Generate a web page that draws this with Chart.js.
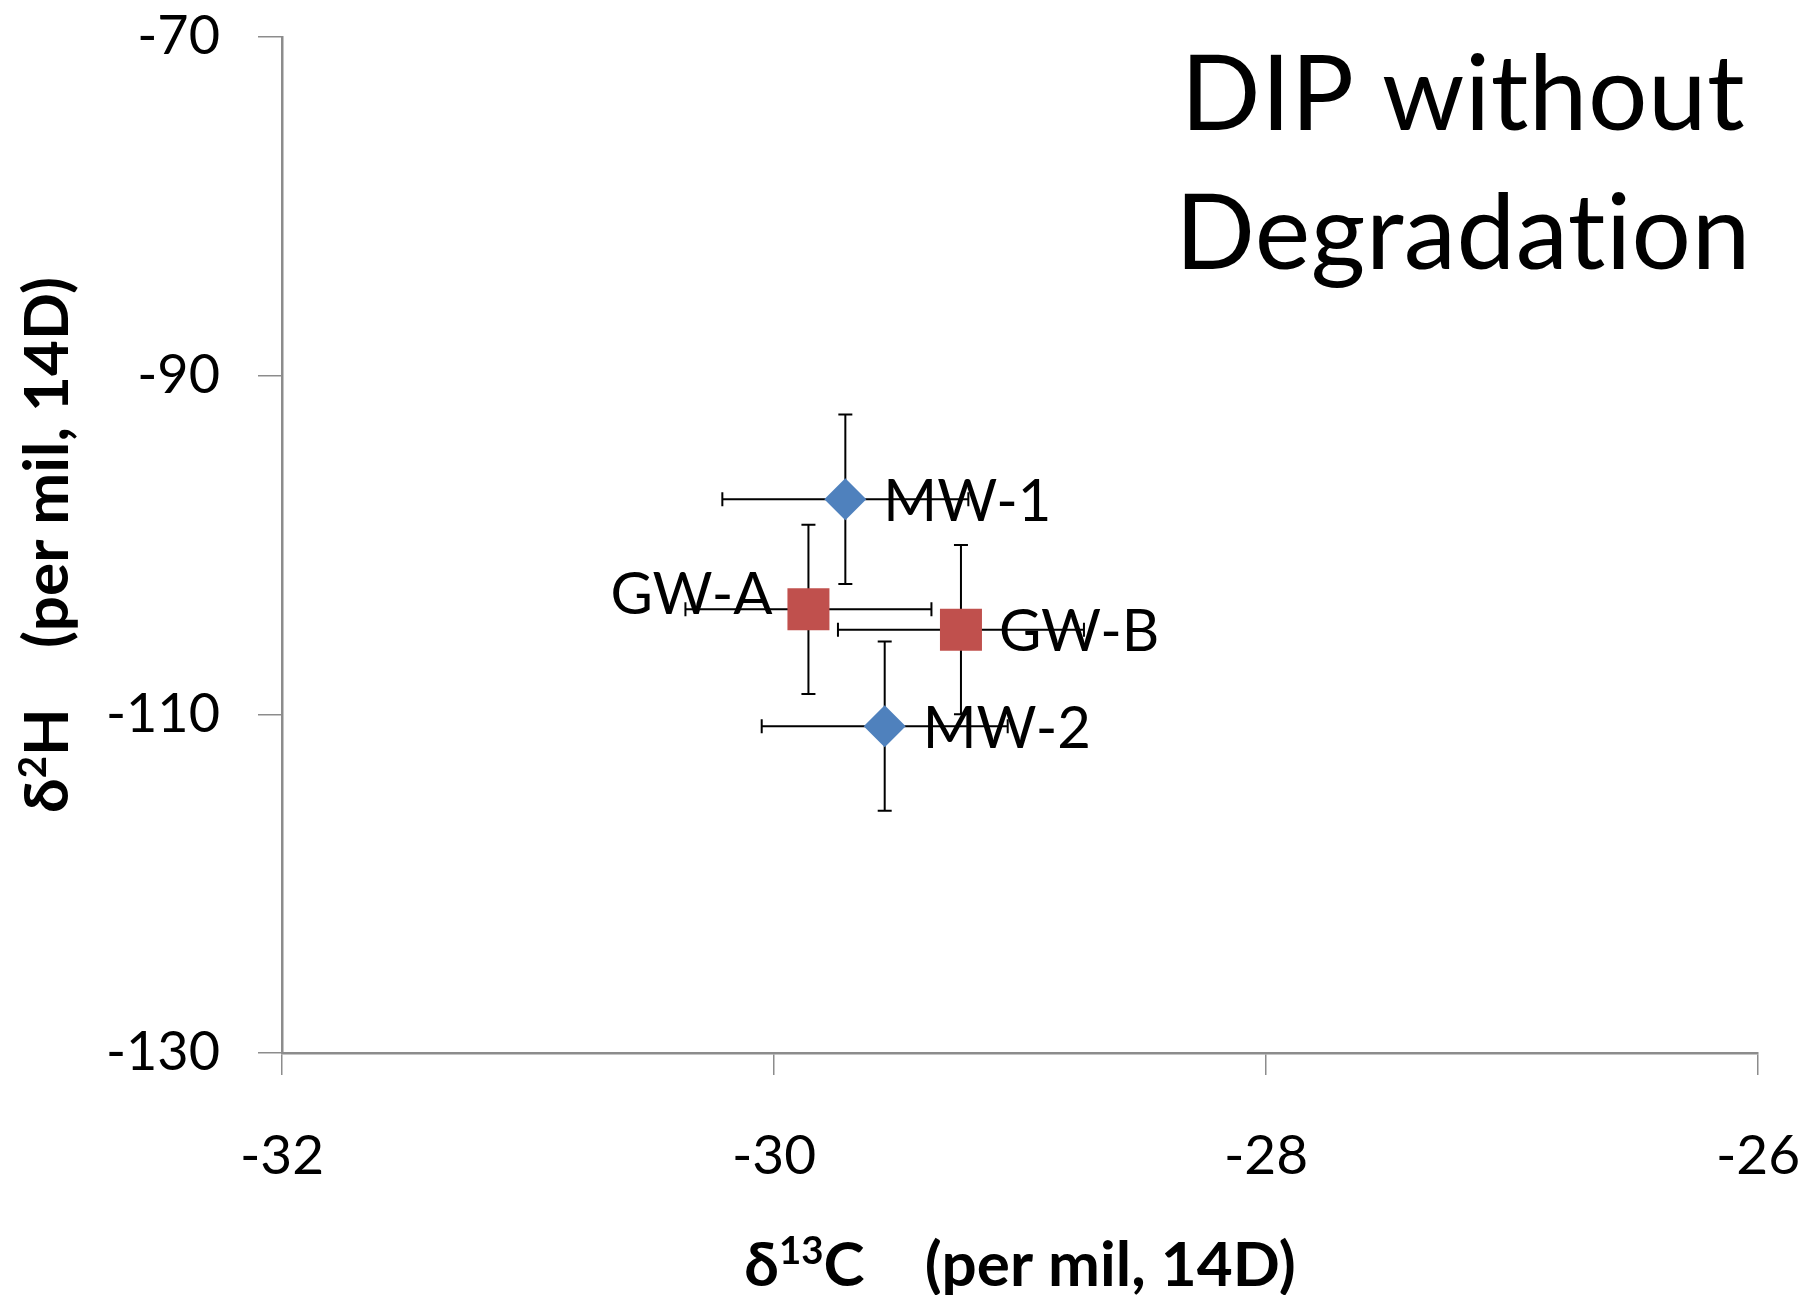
<!DOCTYPE html>
<html>
<head>
<meta charset="utf-8">
<script src="https://cdn.jsdelivr.net/npm/chart.js@4/dist/chart.umd.min.js"></script>
<style>
  html, body { margin: 0; padding: 0; background: #ffffff; }
  #wrap { width: 1818px; height: 1295px; }
</style>
</head>
<body>
<div id="wrap"><canvas id="c" width="1818" height="1295"></canvas></div>
<script>
// ---- data ----
const mwLabels = ['MW-1', 'MW-2'];
const mwX = [-29.71, -29.55];
const mwY = [-97.3, -110.7];
const mwXErr = [0.5, 0.5];
const mwYErr = [5, 5];

const gwLabels = ['GW-A', 'GW-B'];
const gwX = [-29.86, -29.24];
const gwY = [-103.8, -105.0];
const gwXErr = [0.5, 0.5];
const gwYErr = [5, 5];

const xTicks = [-32, -30, -28, -26];
const yTicks = [-130, -110, -90, -70];

const titleLines = ['DIP without', 'Degradation'];

// label side per point (style)
const labelSide = { 'MW-1': 'right', 'MW-2': 'right', 'GW-A': 'left', 'GW-B': 'right' };

const FONT = 'Lato, "Open Sans", sans-serif';

function mk(xs, ys, xe, ye, labels) {
  return xs.map((x, i) => ({ x: x, y: ys[i], xe: xe[i], ye: ye[i], label: labels[i] }));
}

const errorBars = {
  id: 'errorBars',
  beforeDatasetsDraw(chart) {
    const ctx = chart.ctx;
    const xs = chart.scales.x, ys = chart.scales.y;
    const cap = 7;
    ctx.save();
    ctx.strokeStyle = '#000000';
    ctx.lineWidth = 2;
    chart.data.datasets.forEach(ds => {
      ds.data.forEach(p => {
        const cx = xs.getPixelForValue(p.x), cy = ys.getPixelForValue(p.y);
        const x1 = xs.getPixelForValue(p.x - p.xe), x2 = xs.getPixelForValue(p.x + p.xe);
        const y1 = ys.getPixelForValue(p.y + p.ye), y2 = ys.getPixelForValue(p.y - p.ye);
        ctx.beginPath();
        ctx.moveTo(x1, cy); ctx.lineTo(x2, cy);
        ctx.moveTo(x1, cy - cap); ctx.lineTo(x1, cy + cap);
        ctx.moveTo(x2, cy - cap); ctx.lineTo(x2, cy + cap);
        ctx.moveTo(cx, y1); ctx.lineTo(cx, y2);
        ctx.moveTo(cx - cap, y1); ctx.lineTo(cx + cap, y1);
        ctx.moveTo(cx - cap, y2); ctx.lineTo(cx + cap, y2);
        ctx.stroke();
      });
    });
    ctx.restore();
  }
};

const pointLabels = {
  id: 'pointLabels',
  afterDatasetsDraw(chart) {
    const ctx = chart.ctx;
    const xs = chart.scales.x, ys = chart.scales.y;
    ctx.save();
    ctx.fillStyle = '#000000';
    ctx.font = '58px ' + FONT;
    ctx.textBaseline = 'middle';
    chart.data.datasets.forEach(ds => {
      ds.data.forEach(p => {
        const cx = xs.getPixelForValue(p.x), cy = ys.getPixelForValue(p.y);
        if (labelSide[p.label] === 'left') {
          ctx.textAlign = 'right';
          ctx.fillText(p.label, cx - 36, cy - 14);
        } else {
          ctx.textAlign = 'left';
          ctx.fillText(p.label, cx + 38, cy + 3);
        }
      });
    });
    ctx.restore();
  }
};

function drawSupText(ctx, parts, x, y, size) {
  const supSize = size * 0.62;
  let total = 0;
  parts.forEach(p => {
    ctx.font = 'bold ' + (p.sup ? supSize : size) + 'px ' + FONT;
    p.w = ctx.measureText(p.t).width;
    total += p.w;
  });
  let cx = x - total / 2;
  ctx.textAlign = 'left';
  ctx.textBaseline = 'alphabetic';
  parts.forEach(p => {
    ctx.font = 'bold ' + (p.sup ? supSize : size) + 'px ' + FONT;
    ctx.fillText(p.t, cx, p.sup ? y - size * 0.36 : y);
    cx += p.w;
  });
}

const decorations = {
  id: 'decorations',
  afterDraw(chart) {
    const ctx = chart.ctx;
    const ca = chart.chartArea;
    ctx.save();
    ctx.fillStyle = '#000000';
    // title
    ctx.font = '105px ' + FONT;
    try { ctx.letterSpacing = '0.5px'; } catch (e) {}
    ctx.textAlign = 'center';
    ctx.textBaseline = 'alphabetic';
    ctx.fillText(titleLines[0], 1463, 130);
    ctx.fillText(titleLines[1], 1463, 269);
    try { ctx.letterSpacing = '0px'; } catch (e) {}
    // x axis title
    const size = 62;
    drawSupText(ctx, [{t: 'δ'}, {t: '13', sup: true}, {t: 'C    (per mil, 14D)'}], (ca.left + ca.right) / 2, 1286, size);
    // y axis title
    ctx.save();
    ctx.translate(68, (ca.top + ca.bottom) / 2);
    ctx.rotate(-Math.PI / 2);
    drawSupText(ctx, [{t: 'δ'}, {t: '2', sup: true}, {t: 'H    (per mil, 14D)'}], 0, 0, size);
    ctx.restore();
    ctx.restore();
  }
};

const axisColor = '#8c8c8c';

new Chart(document.getElementById('c'), {
  type: 'scatter',
  data: {
    datasets: [
      {
        label: 'MW',
        data: mk(mwX, mwY, mwXErr, mwYErr, mwLabels),
        pointStyle: 'rectRot',
        pointRadius: 21,
        pointHoverRadius: 21,
        backgroundColor: '#4F81BD',
        borderColor: '#4F81BD',
        borderWidth: 0
      },
      {
        label: 'GW',
        data: mk(gwX, gwY, gwXErr, gwYErr, gwLabels),
        pointStyle: 'rect',
        pointRadius: 29.7,
        pointHoverRadius: 29.7,
        backgroundColor: '#C0504D',
        borderColor: '#C0504D',
        borderWidth: 0
      }
    ]
  },
  options: {
    responsive: false,
    animation: false,
    devicePixelRatio: 1,
    layout: { padding: { top: 37, right: 60, left: 0, bottom: 0 } },
    plugins: {
      legend: { display: false },
      tooltip: { enabled: false },
      title: { display: false }
    },
    scales: {
      x: {
        type: 'linear',
        min: -32, max: -26,
        afterBuildTicks(scale) { scale.ticks = xTicks.map(v => ({ value: v })); },
        afterFit(scale) { scale.height = 242; scale.paddingLeft = 0; scale.paddingRight = 0; },
        ticks: {
          color: '#000000',
          font: { family: FONT, size: 55 },
          padding: 48,
          maxRotation: 0,
          callback: v => String(v)
        },
        grid: {
          drawOnChartArea: false,
          drawTicks: true,
          tickLength: 22,
          color: axisColor,
          lineWidth: 1.5
        },
        border: { display: true, color: axisColor, width: 2.5 }
      },
      y: {
        type: 'linear',
        min: -130, max: -70,
        afterBuildTicks(scale) { scale.ticks = yTicks.map(v => ({ value: v })); },
        afterFit(scale) { scale.width = 282; scale.paddingTop = 0; scale.paddingBottom = 0; },
        ticks: {
          color: '#000000',
          font: { family: FONT, size: 54 },
          padding: 38,
          callback: v => String(v)
        },
        grid: {
          drawOnChartArea: false,
          drawTicks: true,
          tickLength: 24,
          color: axisColor,
          lineWidth: 1.5
        },
        border: { display: true, color: axisColor, width: 2.5 }
      }
    }
  },
  plugins: [errorBars, pointLabels, decorations]
});
</script>
</body>
</html>
